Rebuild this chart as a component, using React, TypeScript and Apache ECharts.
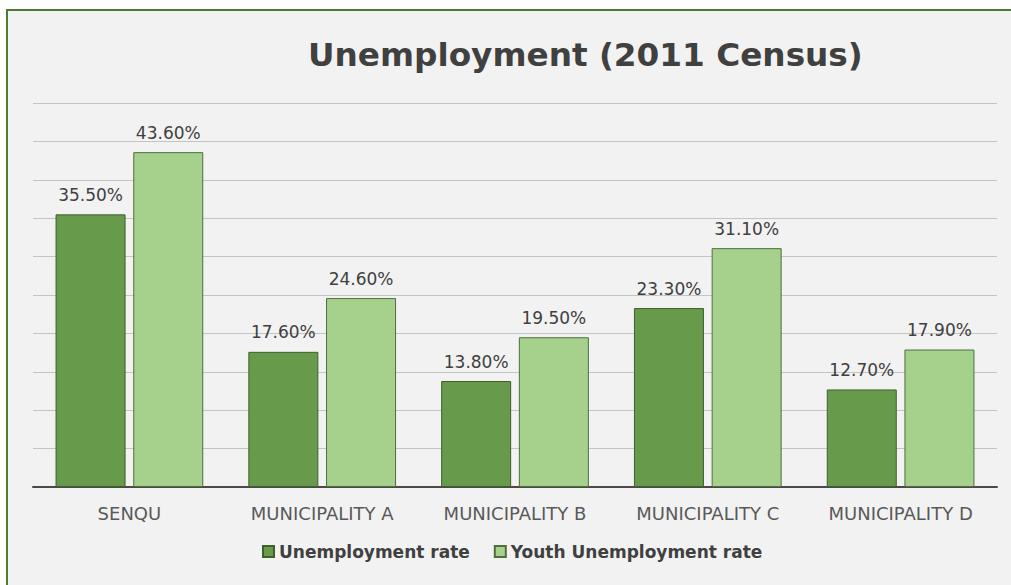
import React, { useEffect, useRef } from "react";
import * as echarts from "echarts";

const categories = ["SENQU", "MUNICIPALITY A", "MUNICIPALITY B", "MUNICIPALITY C", "MUNICIPALITY D"];
const unemploymentRate = [35.5, 17.6, 13.8, 23.3, 12.7];
const youthUnemploymentRate = [43.6, 24.6, 19.5, 31.1, 17.9];
const seriesNames = ["Unemployment rate", "Youth Unemployment rate"];
const titleText = "Unemployment (2011 Census)";

export default function App() {
  const ref = useRef<HTMLDivElement>(null);
  useEffect(() => {
    if (!ref.current) return;
    const chart = echarts.init(ref.current, undefined, { renderer: "svg" });
    const labelStyle = {
      show: true,
      position: "top" as const,
      distance: 11,
      fontFamily: "DejaVu Sans",
      fontSize: 17,
      color: "#404040",
      formatter: (p: any) => Number(p.value).toFixed(2) + "%",
    };
    chart.setOption({
      animation: false,
      backgroundColor: "transparent",
      title: {
        text: titleText,
        left: 308,
        top: 38,
        padding: 0,
        textStyle: { fontFamily: "DejaVu Sans", fontWeight: "bold", fontSize: 32.7, color: "#404040" },
      },
      legend: {
        left: 262,
        top: 543,
        padding: 0,
        icon: "rect",
        itemWidth: 11,
        itemHeight: 11,
        itemGap: 24,
        data: seriesNames,
        textStyle: { fontFamily: "DejaVu Sans", fontWeight: "bold", fontSize: 17, color: "#404040" },
      },
      grid: { left: 33, right: 14, top: 103, bottom: 98, containLabel: false },
      xAxis: {
        type: "category",
        data: categories,
        axisLine: { show: true, lineStyle: { color: "#4a4a4a", width: 2 } },
        axisTick: { show: false },
        axisLabel: { margin: 17, fontFamily: "DejaVu Sans", fontSize: 18, color: "#595959", interval: 0 },
      },
      yAxis: {
        type: "value",
        min: 0,
        max: 50,
        interval: 5,
        axisLine: { show: false },
        axisTick: { show: false },
        axisLabel: { show: false },
        splitLine: { show: true, lineStyle: { color: "#c4c4c4", width: 1 } },
      },
      series: [
        {
          name: seriesNames[0],
          type: "bar",
          data: unemploymentRate,
          barWidth: 70,
          barGap: "11%",
          itemStyle: { color: "#679a4a", borderColor: "#3f5f2c", borderWidth: 1 },
          label: labelStyle,
        },
        {
          name: seriesNames[1],
          type: "bar",
          data: youthUnemploymentRate,
          barWidth: 70,
          barGap: "11%",
          itemStyle: { color: "#a6d18d", borderColor: "#4f6e3c", borderWidth: 1 },
          label: labelStyle,
        },
      ],
    });
    return () => chart.dispose();
  }, []);
  return (
    <div style={{ position: "fixed", left: 0, top: 0, width: 1011, height: 585, background: "#ffffff", overflow: "hidden" }}>
      <div
        style={{
          position: "absolute",
          left: 6,
          top: 9,
          width: 1100,
          height: 700,
          background: "#f2f2f2",
          borderLeft: "2px solid #507a32",
          borderTop: "2px solid #507a32",
        }}
      />
      <div ref={ref} style={{ position: "absolute", left: 0, top: 0, width: 1011, height: 585 }} />
    </div>
  );
}
